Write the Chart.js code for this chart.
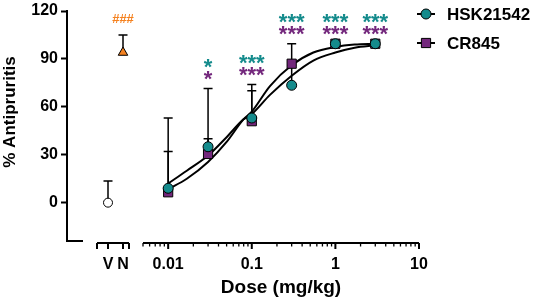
<!DOCTYPE html>
<html>
<head>
<meta charset="utf-8">
<script src="https://cdn.jsdelivr.net/npm/chart.js@4.4.1/dist/chart.umd.min.js"></script>
<style>
    html, body { margin: 0; padding: 0; background: #fff; }
    #wrap { width: 533px; height: 301px; position: relative; }
</style>
</head>
<body>
<div id="wrap"><canvas id="grafico"></canvas></div>
<script>
// Doses (mg/kg) and mean % antipruritis per compound
const doses = [0.01, 0.03, 0.1, 0.3, 1, 3];
const hskMean = [9, 35, 53, 73.5, 99.5, 99.5];
const crMean = [6.5, 30.5, 51, 87, 99.5, 99.5];
// upper end of the error bars (null = hidden behind the marker)
const hskUpper = [53, 71.5, 74, 86, null, null];
const crUpper = [32, 40, 70, 99.5, null, null];
const hskStars = ['', '*', '***', '***', '***', '***'];
const crStars = ['', '*', '***', '***', '***', '***'];

// Controls: vehicle and N
const controls = ['V', 'N'];
const controlMean = [0, 94];
const controlUpper = [13.5, 105];
const controlMarks = ['', '###'];

// Fitted dose-response curves
const fitDoses = [0.01, 0.0167, 0.03, 0.05, 0.079, 0.1, 0.165, 0.3, 0.545, 1, 1.7, 3];
const hskFit = [12, 20, 29.5, 41, 52, 55.5, 67.5, 79.5, 89, 94, 97, 98.5];
const crFit = [8.5, 15, 25.5, 38, 52, 57, 73, 86, 94, 97.5, 99, 99.5];

const yTicks = [0, 30, 60, 90, 120];
const doseTicks = [0.01, 0.1, 1, 10];

const TEAL = '#148b8c';
const PURPLE = '#73277c';
const ORANGE = '#f58220';
const FONT = "'Liberation Sans', Arial, sans-serif";

Chart.defaults.font.family = FONT;
Chart.defaults.font.weight = 'bold';
Chart.defaults.color = '#000';

// draws text so that its glyphs are vertically centred on cy
function centredText(ctx, txt, x, cy) {
    const m = ctx.measureText(txt);
    ctx.fillText(txt, x, cy + (m.actualBoundingBoxAscent - m.actualBoundingBoxDescent) / 2);
}

const extras = {
    id: 'extras',
    beforeDatasetsDraw(chart) {
        const { ctx, scales: { y, xl, xc } } = chart;
        ctx.save();
        ctx.strokeStyle = '#000';
        ctx.lineWidth = 1.5;
        const bar = (x, m, u) => {
            if (u == null) return;
            const y0 = y.getPixelForValue(m), y1 = y.getPixelForValue(u);
            ctx.beginPath();
            ctx.moveTo(x, y0); ctx.lineTo(x, y1);
            ctx.moveTo(x - 4.5, y1); ctx.lineTo(x + 4.5, y1);
            ctx.stroke();
        };
        doses.forEach((d, i) => {
            const x = xl.getPixelForValue(d);
            bar(x, crMean[i], crUpper[i]);
            bar(x, hskMean[i], hskUpper[i]);
        });
        controls.forEach((c, i) => bar(xc.getPixelForValue(i + 1), controlMean[i], controlUpper[i]));
        ctx.restore();
    },
    afterDatasetsDraw(chart) {
        const { ctx, scales: { y, xl, xc } } = chart;
        ctx.save();
        ctx.textAlign = 'center';
        ctx.textBaseline = 'alphabetic';
        // significance stars above each dose
        ctx.font = `bold 22px ${FONT}`;
        doses.forEach((d, i) => {
            const vals = [hskMean[i], crMean[i], hskUpper[i], crUpper[i]].filter(v => v != null);
            const base = y.getPixelForValue(Math.max(...vals));
            const x = xl.getPixelForValue(d);
            ctx.fillStyle = TEAL;
            if (hskStars[i]) centredText(ctx, hskStars[i], x, base - 25);
            ctx.fillStyle = PURPLE;
            if (crStars[i]) centredText(ctx, crStars[i], x, base - 13);
        });
        // ### above the N control
        ctx.font = `bold 13px ${FONT}`;
        ctx.fillStyle = ORANGE;
        controls.forEach((c, i) => {
            if (!controlMarks[i]) return;
            centredText(ctx, controlMarks[i], xc.getPixelForValue(i + 1), y.getPixelForValue(controlUpper[i]) - 16);
        });
        ctx.restore();
    },
    afterDraw(chart) {
        const { ctx, chartArea, scales: { xl, xc } } = chart;
        const ay = chartArea.bottom + 2;
        ctx.save();
        ctx.strokeStyle = '#000';
        ctx.lineWidth = 2;

        // little foot of the y axis
        ctx.beginPath();
        ctx.moveTo(chartArea.left - 1, chartArea.bottom);
        ctx.lineTo(chartArea.left + 16, chartArea.bottom);
        ctx.stroke();

        // V / N axis segment
        const vx = xc.getPixelForValue(1), nx = xc.getPixelForValue(2);
        const segL = vx - 11, segR = nx + 6;
        ctx.beginPath();
        ctx.moveTo(segL, ay); ctx.lineTo(segR, ay);
        [segL, vx, nx, segR].forEach(x => { ctx.moveTo(x, ay); ctx.lineTo(x, ay + 6); });
        ctx.stroke();

        // log dose axis
        ctx.beginPath();
        ctx.moveTo(xl.left, ay); ctx.lineTo(xl.right, ay);
        doseTicks.forEach(v => {
            const x = xl.getPixelForValue(v);
            ctx.moveTo(x, ay); ctx.lineTo(x, ay + 6);
        });
        ctx.stroke();
        ctx.lineWidth = 1.3;
        ctx.beginPath();
        for (let e = -3; e <= 0; e++) {
            for (let m = 2; m <= 9; m++) {
                const v = m * Math.pow(10, e);
                if (v < xl.min - 1e-9 || v > xl.max) continue;
                const x = xl.getPixelForValue(v);
                ctx.moveTo(x, ay); ctx.lineTo(x, ay + 3.5);
            }
        }
        ctx.stroke();

        // y axis title
        ctx.fillStyle = '#000';
        ctx.font = `bold 17px ${FONT}`;
        ctx.textAlign = 'center';
        ctx.translate(10, 112);
        ctx.rotate(-Math.PI / 2);
        centredText(ctx, '% Antipruritis', 0, 0);
        ctx.restore();

        // legend
        ctx.save();
        const rows = [0, 1];
        rows.forEach((di, r) => {
            const ds = chart.data.datasets[di];
            const ly = 14 + r * 29;
            ctx.strokeStyle = '#000';
            ctx.lineWidth = 2;
            ctx.beginPath();
            ctx.moveTo(417, ly); ctx.lineTo(435, ly);
            ctx.stroke();
            ctx.fillStyle = ds.backgroundColor;
            ctx.lineWidth = 1;
            Chart.helpers.drawPoint(ctx, { pointStyle: ds.pointStyle, radius: ds.pointRadius, rotation: 0, borderWidth: 1 }, 426, ly);
            ctx.fillStyle = '#000';
            ctx.font = `bold 17px ${FONT}`;
            ctx.textAlign = 'left';
            centredText(ctx, ds.label, 447, ly);
        });
        ctx.restore();
    }
};

const pts = (xs, ys) => xs.map((x, i) => ({ x, y: ys[i] }));

new Chart(document.getElementById('grafico'), {
    type: 'scatter',
    data: {
        datasets: [
            { label: 'HSK21542', data: pts(doses, hskMean), xAxisID: 'xl', order: 0,
              pointStyle: 'circle', pointRadius: 5, backgroundColor: TEAL, borderColor: '#000', borderWidth: 1, clip: false },
            { label: 'CR845', data: pts(doses, crMean), xAxisID: 'xl', order: 1,
              pointStyle: 'rect', pointRadius: 6.5, backgroundColor: PURPLE, borderColor: '#000', borderWidth: 1, clip: false },
            { label: 'Controls', data: controls.map((c, i) => ({ x: i + 1, y: controlMean[i] })), xAxisID: 'xc', order: 2,
              pointStyle: ['circle', 'triangle'], pointRadius: [4.5, 5.5], backgroundColor: ['#fff', ORANGE],
              borderColor: '#000', borderWidth: 1, clip: false },
            { label: 'HSK fit', data: pts(fitDoses, hskFit), xAxisID: 'xl', order: 3, showLine: true,
              pointRadius: 0, borderColor: '#000', borderWidth: 2, cubicInterpolationMode: 'monotone' },
            { label: 'CR fit', data: pts(fitDoses, crFit), xAxisID: 'xl', order: 4, showLine: true,
              pointRadius: 0, borderColor: '#000', borderWidth: 2, cubicInterpolationMode: 'monotone' }
        ]
    },
    options: {
        responsive: true,
        maintainAspectRatio: false,
        animation: false,
        layout: { padding: { top: 8, right: 114, bottom: 0, left: 0 } },
        plugins: { legend: { display: false }, tooltip: { enabled: false } },
        scales: {
            y: {
                min: -24, max: 120,
                afterBuildTicks: s => { s.ticks = yTicks.map(v => ({ value: v })); },
                afterFit: s => { s.width = 67; },
                grid: { drawOnChartArea: false, drawTicks: true, tickLength: 6, tickWidth: 2, tickColor: '#000' },
                border: { display: true, color: '#000', width: 2 },
                ticks: { padding: 3, color: '#000', font: { size: 16, weight: 'bold', lineHeight: 1 } }
            },
            xc: {
                type: 'linear', position: 'bottom', stack: 'bottom', stackWeight: 76,
                min: -1.733, max: 3.333,
                afterBuildTicks: s => { s.ticks = controls.map((c, i) => ({ value: i + 1 })); },
                afterFit: s => { s.height = 60; },
                grid: { display: false, drawTicks: false },
                border: { display: false },
                ticks: { autoSkip: false, maxRotation: 0, padding: 14, color: '#000',
                         font: { size: 16, weight: 'bold' }, callback: v => controls[v - 1] ?? '' }
            },
            xl: {
                type: 'logarithmic', position: 'bottom', stack: 'bottom', stackWeight: 276,
                min: 0.005, max: 10,
                afterBuildTicks: s => { s.ticks = doseTicks.map(v => ({ value: v })); },
                afterFit: s => { s.height = 60; },
                grid: { display: false, drawTicks: false },
                border: { display: false },
                ticks: { autoSkip: false, maxRotation: 0, padding: 14, color: '#000',
                         font: { size: 16, weight: 'bold' }, callback: v => String(v) },
                title: { display: true, text: 'Dose (mg/kg)', color: '#000',
                         font: { size: 19, weight: 'bold' }, padding: { top: 0, bottom: 2 } }
            }
        }
    },
    plugins: [extras]
});
</script>
</body>
</html>
